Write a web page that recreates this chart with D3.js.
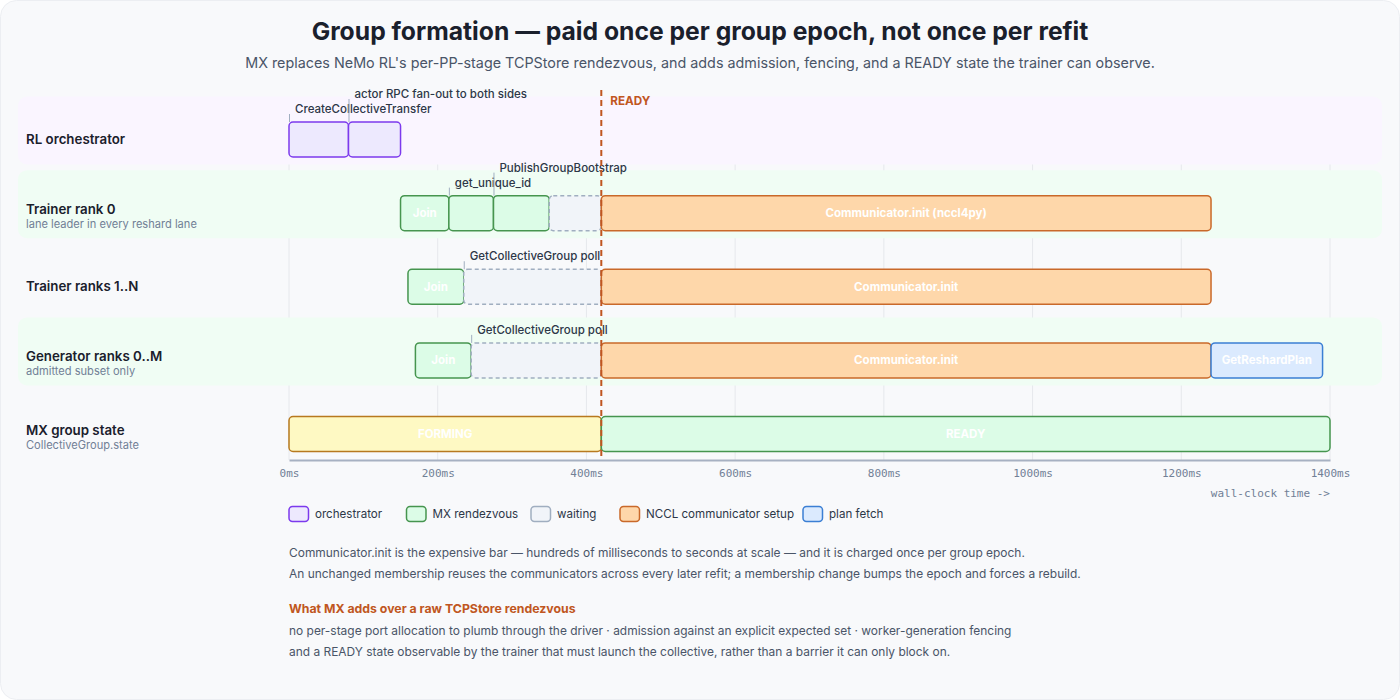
<!DOCTYPE html>
<html>
<head>
<meta charset="utf-8">
<script src="https://cdn.jsdelivr.net/npm/d3@7"></script>
<style>
  html, body { margin: 0; padding: 0; background: #ffffff; }
  svg { display: block; font-family: Inter, "Noto Sans", "DejaVu Sans", sans-serif; }
</style>
</head>
<body>
<svg id="chart" width="1400" height="700"></svg>
<script>
// ---------- data ----------
const lanes = ["RL orchestrator", "Trainer rank 0", "Trainer ranks 1..N", "Generator ranks 0..M", "MX group state"];
const laneSubtitles = ["", "lane leader in every reshard lane", "", "admitted subset only", "CollectiveGroup.state"];
const laneTints = ["orch", "mx", "", "mx", ""];

const segLane  = [0, 0, 1, 1, 1, 1, 1, 2, 2, 2, 3, 3, 3, 3, 4, 4];
const segStart = [0, 80, 150, 215, 275, 350, 420, 160, 235, 420, 170, 245, 420, 1240, 0, 420];
const segEnd   = [80, 150, 215, 275, 350, 420, 1240, 235, 420, 1240, 245, 420, 1240, 1390, 420, 1400];
const segKind  = ["orch", "orch", "mx", "mx", "mx", "wait", "nccl", "mx", "wait", "nccl", "mx", "wait", "nccl", "plan", "forming", "ready"];
const segLabel = ["CreateCollectiveTransfer", "actor RPC fan-out to both sides",
                  "Join", "get_unique_id", "PublishGroupBootstrap", "", "Communicator.init (nccl4py)",
                  "Join", "GetCollectiveGroup poll", "Communicator.init",
                  "Join", "GetCollectiveGroup poll", "Communicator.init", "GetReshardPlan",
                  "FORMING", "READY"];

const readyAt = 420;
const timeDomain = [0, 1400];
const tickValues = [0, 200, 400, 600, 800, 1000, 1200, 1400];

const legendKinds  = ["orch", "mx", "wait", "nccl", "plan"];
const legendLabels = ["orchestrator", "MX rendezvous", "waiting", "NCCL communicator setup", "plan fetch"];

const titleText = "Group formation \u2014 paid once per group epoch, not once per refit";
const subtitleText = "MX replaces NeMo RL's per-PP-stage TCPStore rendezvous, and adds admission, fencing, and a READY state the trainer can observe.";
const noteLines = [
  "Communicator.init is the expensive bar \u2014 hundreds of milliseconds to seconds at scale \u2014 and it is charged once per group epoch.",
  "An unchanged membership reuses the communicators across every later refit; a membership change bumps the epoch and forces a rebuild."
];
const addsHeading = "What MX adds over a raw TCPStore rendezvous";
const addsLines = [
  "no per-stage port allocation to plumb through the driver \u00b7 admission against an explicit expected set \u00b7 worker-generation fencing",
  "and a READY state observable by the trainer that must launch the collective, rather than a barrier it can only block on."
];

// ---------- styles / layout ----------
const kindStyle = {
  orch:    { fill: "#ede9fe", stroke: "#7c3aed" },
  mx:      { fill: "#dcfce7", stroke: "#46954f" },
  wait:    { fill: "#f1f4f9", stroke: "#a0aec0", dash: "4,3" },
  nccl:    { fill: "#fed7aa", stroke: "#c9692a" },
  plan:    { fill: "#dbeafe", stroke: "#3b7fd4" },
  forming: { fill: "#fef9c3", stroke: "#b7791f" },
  ready:   { fill: "#dcfce7", stroke: "#46954f" }
};
const tintFill = { orch: "#faf5ff", mx: "#f0fdf4" };
const legendSlots = [289, 406.5, 531, 620, 803];

const W = 1400, H = 700;
const svg = d3.select("#chart");

// card background
svg.append("rect").attr("x", 0.5).attr("y", 0.5).attr("width", W - 1).attr("height", H - 1)
  .attr("rx", 16).attr("fill", "#f8f9fb").attr("stroke", "#eceef2");

// title
svg.append("text").attr("x", W / 2).attr("y", 31).attr("text-anchor", "middle")
  .attr("dominant-baseline", "central").attr("font-size", 24.7).attr("font-weight", 700)
  .attr("fill", "#1a202c").text(titleText);
svg.append("text").attr("x", W / 2).attr("y", 62).attr("text-anchor", "middle")
  .attr("dominant-baseline", "central").attr("font-size", 14.35).attr("font-weight", 400)
  .attr("fill", "#4a5568").text(subtitleText);

// scales
const x = d3.scaleLinear().domain(timeDomain).range([289, 1330]);
const y = d3.scalePoint().domain(d3.range(lanes.length)).range([139.5, 434]);
const barH = 35;

const g = svg.append("g");

// grid lines
g.append("g").selectAll("line").data(tickValues).join("line")
  .attr("x1", d => x(d)).attr("x2", d => x(d))
  .attr("y1", 97).attr("y2", 460)
  .attr("stroke", "#e6e8ec").attr("stroke-width", 1);

// lane backgrounds
g.append("g").selectAll("rect").data(d3.range(lanes.length).filter(i => laneTints[i])).join("rect")
  .attr("x", 18).attr("width", 1364)
  .attr("y", i => y(i) - 43).attr("height", 68)
  .attr("rx", 9).attr("fill", i => tintFill[laneTints[i]]);

// lane labels
const laneG = g.append("g");
d3.range(lanes.length).forEach(i => {
  const hasSub = !!laneSubtitles[i];
  laneG.append("text").attr("x", 26).attr("y", hasSub ? y(i) - 4.5 : y(i) - 0.5)
    .attr("dominant-baseline", "central").attr("font-size", 13.3).attr("font-weight", 600)
    .attr("fill", "#1a202c").text(lanes[i]);
  if (hasSub) {
    laneG.append("text").attr("x", 26).attr("y", y(i) + 11)
      .attr("dominant-baseline", "central").attr("font-size", 11.1).attr("fill", "#718096")
      .text(laneSubtitles[i]);
  }
});

// axis
const axis = d3.axisBottom(x).tickValues(tickValues).tickFormat(d => d + "ms").tickSize(0).tickPadding(9);
const axG = g.append("g").attr("transform", "translate(0,460)").call(axis);
axG.select(".domain").attr("stroke", "#a7b1c2").attr("stroke-width", 2);
axG.selectAll("text").attr("font-family", "'DejaVu Sans Mono', 'Liberation Mono', monospace")
  .attr("font-size", 11).attr("fill", "#718096");
g.append("text").attr("x", x(1400)).attr("y", 493).attr("text-anchor", "end")
  .attr("dominant-baseline", "central")
  .attr("font-family", "'DejaVu Sans Mono', 'Liberation Mono', monospace")
  .attr("font-size", 11).attr("fill", "#718096").text("wall-clock time ->");

// bars
const segs = segLane.map((l, i) => ({ lane: l, s: segStart[i], e: segEnd[i], kind: segKind[i], label: segLabel[i] }));
const barG = g.append("g");
barG.selectAll("rect").data(segs).join("rect")
  .attr("x", d => x(d.s)).attr("width", d => x(d.e) - x(d.s))
  .attr("y", d => y(d.lane) - barH / 2).attr("height", barH)
  .attr("rx", 4)
  .attr("fill", d => kindStyle[d.kind].fill)
  .attr("stroke", d => kindStyle[d.kind].stroke)
  .attr("stroke-width", 1.5)
  .attr("stroke-dasharray", d => kindStyle[d.kind].dash || null);

// labels: inside if fits, else above with leader tick
const labG = g.append("g");
const levelCount = {};
segs.forEach(d => {
  if (!d.label) return;
  const w = x(d.e) - x(d.s);
  const probe = labG.append("text").attr("font-size", 11.5).attr("font-weight", 700).text(d.label);
  const tw = probe.node().getComputedTextLength();
  probe.remove();
  const top = y(d.lane) - barH / 2;
  if (tw + 12 <= w) {
    labG.append("text").attr("x", (x(d.s) + x(d.e)) / 2).attr("y", y(d.lane))
      .attr("text-anchor", "middle").attr("dominant-baseline", "central")
      .attr("font-size", 11.5).attr("font-weight", 700).attr("fill", "#ffffff").text(d.label);
  } else {
    const lvl = (levelCount[d.lane] || 0) % 2;
    levelCount[d.lane] = (levelCount[d.lane] || 0) + 1;
    const ty = top - 13 - lvl * 15;
    labG.append("line").attr("x1", x(d.s) + 0.5).attr("x2", x(d.s) + 0.5)
      .attr("y1", ty + 5).attr("y2", top)
      .attr("stroke", "#a0aec0").attr("stroke-width", 1);
    labG.append("text").attr("x", x(d.s) + 6).attr("y", ty)
      .attr("dominant-baseline", "central").attr("font-size", 11.5).attr("font-weight", 500)
      .attr("fill", "#2d3748").text(d.label);
  }
});

// READY marker
g.append("line").attr("x1", x(readyAt)).attr("x2", x(readyAt))
  .attr("y1", 90).attr("y2", 460)
  .attr("stroke", "#c05621").attr("stroke-width", 2).attr("stroke-dasharray", "6,4");
g.append("text").attr("x", x(readyAt) + 9).attr("y", 101).attr("dominant-baseline", "central")
  .attr("font-size", 11.7).attr("font-weight", 700).attr("fill", "#c05621").text("READY");

// legend
const legG = g.append("g");
legendKinds.forEach((k, i) => {
  const st = kindStyle[k];
  const lx = legendSlots[i];
  legG.append("rect").attr("x", lx).attr("y", 506.5).attr("width", 19.5).attr("height", 15).attr("rx", 3.5)
    .attr("fill", st.fill).attr("stroke", st.stroke).attr("stroke-width", 1.5);
  legG.append("text").attr("x", lx + 26).attr("y", 514).attr("dominant-baseline", "central")
    .attr("font-size", 11.6).attr("fill", "#2d3748").text(legendLabels[i]);
});

// notes
const noteG = g.append("g");
noteLines.forEach((t, i) => {
  noteG.append("text").attr("x", 289).attr("y", 552 + i * 21.5).attr("dominant-baseline", "central")
    .attr("font-size", 11.95).attr("fill", "#4a5568").text(t);
});
noteG.append("text").attr("x", 289).attr("y", 608).attr("dominant-baseline", "central")
  .attr("font-size", 12.3).attr("font-weight", 700).attr("fill", "#c05621").text(addsHeading);
addsLines.forEach((t, i) => {
  noteG.append("text").attr("x", 289).attr("y", 630 + i * 21).attr("dominant-baseline", "central")
    .attr("font-size", 11.95).attr("fill", "#4a5568").text(t);
});
</script>
</body>
</html>
